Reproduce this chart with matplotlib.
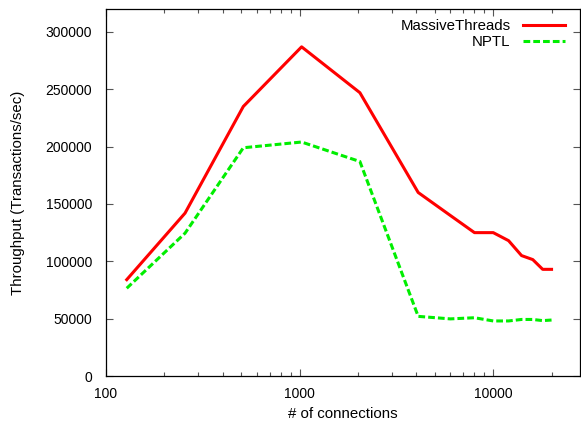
import matplotlib
matplotlib.use("Agg")
import matplotlib.pyplot as plt
from matplotlib.ticker import LogLocator, NullFormatter, FixedLocator

# number of connections
connections = [128, 256, 512, 1024, 2048, 4096, 6000, 8000, 10000,
               12000, 14000, 16000, 18000, 20000]
# throughput (transactions/sec)
massive_threads = [84000, 142000, 235000, 287000, 247000, 160000, 140000,
                   125000, 125000, 118000, 105000, 101500, 93000, 93000]
nptl = [76500, 124500, 199000, 204000, 187000, 52000, 49800, 50800,
        48000, 48000, 49300, 49300, 48300, 48800]

y_ticks = [0, 50000, 100000, 150000, 200000, 250000, 300000]
x_ticks = [100, 1000, 10000]

plt.rcParams['font.family'] = ['Liberation Sans', 'DejaVu Sans']
plt.rcParams['font.size'] = 10.8

fig = plt.figure(figsize=(5.81, 4.22), dpi=100)
ax = fig.add_axes([0.1824, 0.109, 0.8156, 0.8697])

ax.plot(connections, massive_threads, color='#ff0000', lw=2.2,
        label='MassiveThreads')
ax.plot(connections, nptl, color='#00ee00', lw=2.2, dashes=(2.2, 1.0),
        label='NPTL')

ax.set_xscale('log')
ax.set_xlim(100, 28000)
ax.set_ylim(0, 320000)
ax.xaxis.set_major_locator(FixedLocator(x_ticks))
ax.set_xticklabels([str(t) for t in x_ticks])
ax.xaxis.set_minor_locator(LogLocator(base=10, subs=range(2, 10)))
ax.xaxis.set_minor_formatter(NullFormatter())
ax.set_yticks(y_ticks)
ax.set_yticklabels([str(t) for t in y_ticks])

ax.tick_params(which='both', direction='in', top=True, right=True,
               color='#555555', labelcolor='black', labelsize=10)
ax.tick_params(which='major', length=5, width=0.8)
ax.tick_params(which='minor', length=3, width=0.8)
ax.tick_params(axis='y', which='major', pad=10)
ax.tick_params(axis='x', which='major', pad=8)
for s in ax.spines.values():
    s.set_linewidth(0.9)

ax.set_xlabel('# of connections', labelpad=4)
ax.set_ylabel('Throughput (Transactions/sec)', labelpad=15)

ax.legend(loc='upper right', bbox_to_anchor=(0.99, 1.0), frameon=False,
          markerfirst=False, handlelength=2.8, handletextpad=0.8,
          labelspacing=0.1, borderaxespad=0.3)

fig.savefig('out.png', dpi=100)
